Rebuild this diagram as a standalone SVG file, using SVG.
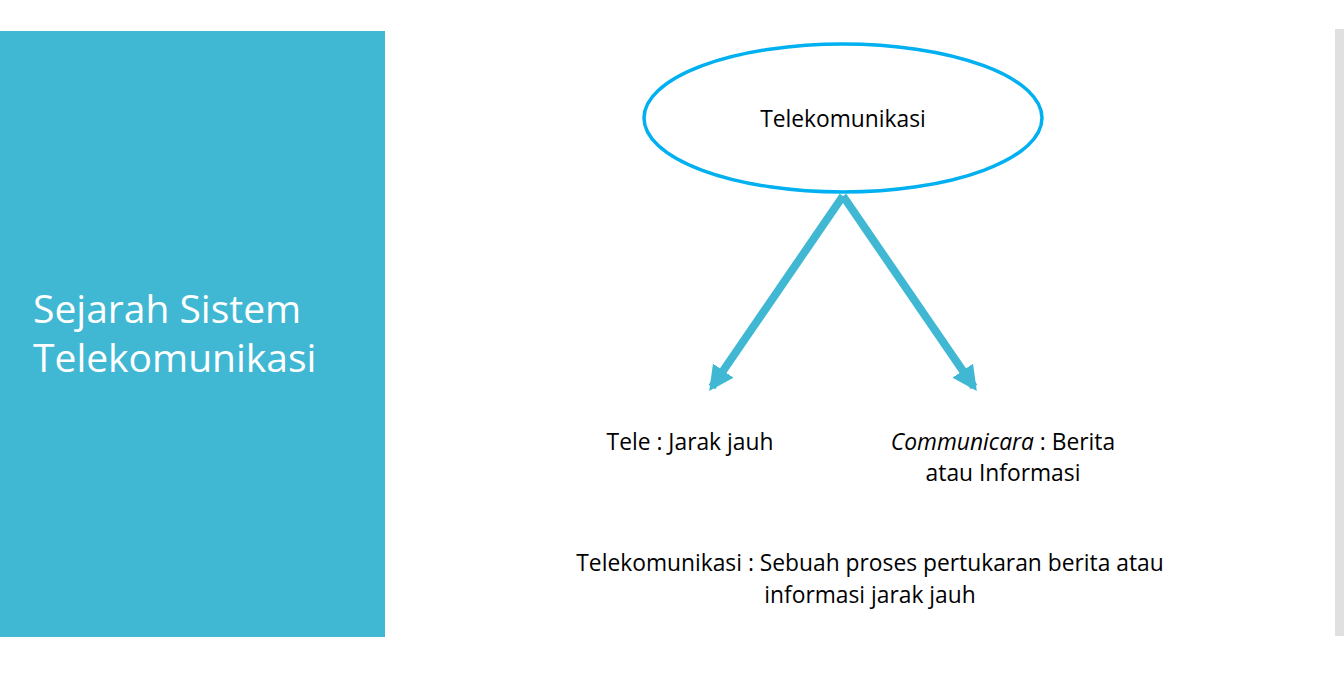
<svg xmlns="http://www.w3.org/2000/svg" width="1344" height="692" viewBox="0 0 1344 692">
<style>
.t{font-family:"Open Sans","Noto Sans","Liberation Sans",sans-serif;font-size:22.8px;fill:#000;text-anchor:middle}
.title{font-family:"Open Sans","Noto Sans","Liberation Sans",sans-serif;font-size:39px;fill:#fff}
.arr{stroke:#41B8D3;stroke-width:8;fill:none;marker-end:url(#ah)}
</style>
<defs>
<marker id="ah" viewBox="0 0 10 10" refX="8" refY="5" markerWidth="3.1" markerHeight="3.1" orient="auto" markerUnits="strokeWidth">
<path d="M0,0 L10,5 L0,10 z" fill="#41B8D3"/>
</marker>
</defs>
<rect width="1344" height="692" fill="#fff"/>
<g id="side-panel">
<rect x="0" y="31" width="385" height="606" fill="#41B8D3"/>
<text class="title" x="33" y="323">Sejarah Sistem</text>
<text class="title" x="33" y="372">Telekomunikasi</text>
</g>
<rect x="1335" y="29" width="9" height="607" fill="#E0E0E0"/>
<g id="connectors">
<line class="arr" x1="843" y1="196" x2="712" y2="387"/>
<line class="arr" x1="843" y1="196" x2="974" y2="387"/>
</g>
<g id="node-root">
<ellipse cx="843" cy="118" rx="199" ry="74" fill="#fff" stroke="#00B0F0" stroke-width="3.5"/>
<text class="t" x="843" y="127">Telekomunikasi</text>
</g>
<g id="node-tele">
<text class="t" x="690" y="450">Tele : Jarak jauh</text>
</g>
<g id="node-communicara">
<text class="t" x="1003" y="450"><tspan font-style="italic">Communicara</tspan> : Berita</text>
<text class="t" x="1003" y="481">atau Informasi</text>
</g>
<g id="definition">
<text class="t" x="870" y="571">Telekomunikasi : Sebuah proses pertukaran berita atau</text>
<text class="t" x="870" y="603">informasi jarak jauh</text>
</g>
</svg>
